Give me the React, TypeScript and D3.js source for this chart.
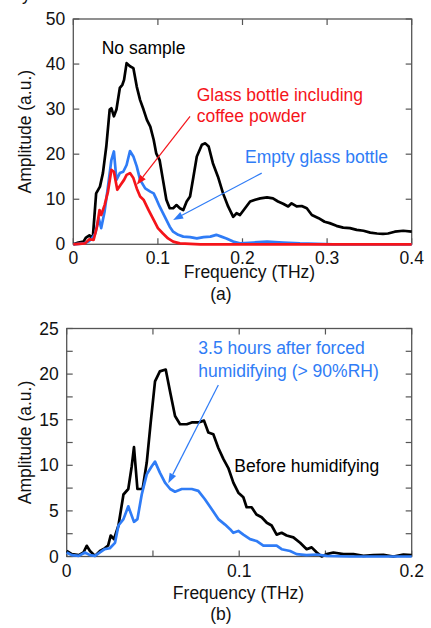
import React from "react";
import * as d3 from "d3";

// (a) spectra: [frequency THz, amplitude a.u.]
const noSample: [number, number][] = [
  [0, 0], [0.006, 0.4], [0.012, 0.6], [0.015, 1.5], [0.019, 2], [0.023, 1.3], [0.027, 11.3],
  [0.0315, 12.8], [0.035, 15.8], [0.039, 21.7], [0.043, 29.9], [0.045, 30.2], [0.048, 28.4],
  [0.051, 29.9], [0.055, 34.7], [0.058, 35.4], [0.06, 36.5], [0.063, 40.2], [0.067, 39.5],
  [0.071, 39.1], [0.075, 35], [0.079, 32], [0.083, 29.9], [0.087, 27.6], [0.091, 26.1],
  [0.095, 23.2], [0.098, 20.2], [0.102, 18.7], [0.106, 14.3], [0.11, 9.9], [0.114, 8],
  [0.118, 8], [0.122, 8.7], [0.126, 8], [0.13, 7.6], [0.134, 9.5], [0.138, 10.6], [0.142, 15],
  [0.146, 19.5], [0.152, 22.1], [0.156, 22.4], [0.16, 21.7], [0.165, 18], [0.171, 15],
  [0.177, 11.3], [0.183, 8.4], [0.189, 6.1], [0.193, 6.9], [0.197, 6.5], [0.203, 8],
  [0.209, 9.5], [0.215, 9.9], [0.221, 10.2], [0.229, 10.4], [0.236, 10.2], [0.242, 9.5],
  [0.248, 9], [0.254, 8.4], [0.258, 9.1], [0.264, 8.4], [0.27, 8.5], [0.276, 8], [0.282, 6.5],
  [0.29, 5.8], [0.297, 5], [0.303, 4.7], [0.311, 4.1], [0.319, 3.7], [0.327, 3.6], [0.335, 3.2],
  [0.343, 3], [0.351, 2.6], [0.359, 2.4], [0.366, 2.3], [0.372, 2.4], [0.38, 2.8], [0.39, 3],
  [0.4, 2.8],
];

const emptyBottle: [number, number][] = [
  [0, 0], [0.012, 0.2], [0.018, 0.6], [0.022, 1.3], [0.026, 2.4], [0.03, 5.8], [0.033, 3.6],
  [0.037, 7.3], [0.041, 12.8], [0.045, 18.7], [0.048, 20.6], [0.051, 14.3], [0.055, 15.8],
  [0.059, 16.1], [0.063, 17.6], [0.067, 20.7], [0.071, 19.5], [0.075, 17.3], [0.079, 14.3],
  [0.085, 12.4], [0.091, 11.7], [0.095, 11.3], [0.0985, 9.9], [0.102, 8.4], [0.106, 6.9],
  [0.11, 5.4], [0.114, 3.9], [0.118, 2.8], [0.124, 2.1], [0.13, 1.7], [0.138, 1.6],
  [0.146, 1.3], [0.154, 1.6], [0.162, 1.7], [0.169, 2.1], [0.175, 1.7], [0.181, 1.3],
  [0.189, 0.6], [0.197, 0.2], [0.213, 0.4], [0.229, 0.6], [0.248, 0.4], [0.268, 0.2],
  [0.307, 0], [0.4, 0],
];

const coffeeBottle: [number, number][] = [
  [0, 0], [0.014, 0.2], [0.019, 1.1], [0.024, 1], [0.028, 3.9], [0.031, 7.6], [0.033, 6.5],
  [0.037, 8.7], [0.041, 11.7], [0.045, 16.5], [0.048, 16.1], [0.052, 12.1], [0.056, 13.2],
  [0.06, 14.3], [0.063, 15.4], [0.067, 15.8], [0.071, 14.7], [0.075, 12.4], [0.079, 10.6],
  [0.083, 9.9], [0.089, 7.6], [0.095, 5.4], [0.1, 3.6], [0.106, 2.4], [0.112, 1.3],
  [0.118, 0.6], [0.126, 0.2], [0.15, 0], [0.4, 0],
];

// (b) spectra
const beforeHumid: [number, number][] = [
  [0, 0.6], [0.003, 0.26], [0.007, 0.15], [0.0097, 0.44], [0.0116, 1.17], [0.0135, 0.6],
  [0.0164, 0.07], [0.0193, 0.6], [0.022, 0.9], [0.024, 1.2], [0.0255, 2.3], [0.0274, 1.9],
  [0.03, 3.4], [0.0329, 6.8], [0.0357, 7.4], [0.0377, 9.9], [0.039, 12], [0.041, 7.4],
  [0.044, 7.4], [0.0464, 10.3], [0.0487, 14.7], [0.0512, 19.2], [0.054, 20.3], [0.0574, 20.5],
  [0.06, 18], [0.0628, 15.4], [0.0657, 14.5], [0.0696, 14.5], [0.0725, 14.7], [0.0763, 14.7],
  [0.0796, 14.9], [0.0821, 13.6], [0.085, 13.4], [0.0879, 11.9], [0.0908, 10.7], [0.0937, 9.7],
  [0.0966, 8.1], [0.0995, 7], [0.1024, 6.5], [0.1043, 5.4], [0.1072, 5.4], [0.11, 4.6],
  [0.113, 4.3], [0.116, 3.7], [0.1188, 3.4], [0.1217, 2.4], [0.1246, 2.6], [0.1275, 2.3],
  [0.1314, 2.1], [0.1353, 1.5], [0.1391, 0.8], [0.142, 1], [0.145, 0.44], [0.1478, 0],
  [0.1507, 0.26], [0.1546, 0.44], [0.1604, 0.26], [0.1662, 0.26], [0.172, 0.07], [0.1778, 0.15],
  [0.1836, 0.18], [0.1894, 0], [0.1952, 0.22], [0.2, 0.15],
];

const afterHumid: [number, number][] = [
  [0, 0.44], [0.003, 0.15], [0.007, 0.07], [0.0106, 0.44], [0.0135, 0.15], [0.0164, 0.07],
  [0.0193, 0.44], [0.022, 0.8], [0.025, 0.9], [0.028, 1.5], [0.03, 3.4], [0.0329, 4.1],
  [0.0357, 5.5], [0.039, 3.8], [0.041, 4.1], [0.0435, 6.8], [0.0464, 9], [0.0493, 9.9],
  [0.0512, 10.4], [0.054, 9.2], [0.057, 8.1], [0.06, 7.4], [0.0628, 7.1], [0.0667, 7.4],
  [0.0725, 7.4], [0.0763, 7.2], [0.08, 6.3], [0.084, 5.2], [0.0879, 4.1], [0.0918, 3.5],
  [0.0947, 3], [0.0966, 2.6], [0.0995, 2.8], [0.1024, 2.4], [0.1063, 1.9], [0.11, 1.7],
  [0.114, 1.2], [0.1179, 1.2], [0.1217, 1.2], [0.1246, 0.8], [0.1295, 0.6], [0.1333, 0.26],
  [0.139, 0.15], [0.145, 0.22], [0.1507, 0.07], [0.164, 0], [0.2, 0],
];

const xTicksA = [0, 0.1, 0.2, 0.3, 0.4];
const yTicksA = [0, 10, 20, 30, 40, 50];
const xTicksB = [0, 0.1, 0.2];
const xMinorB = [0.05, 0.15];
const yTicksB = [0, 5, 10, 15, 20, 25];
const yMinorB = [2.5, 7.5, 12.5, 17.5, 22.5];

const BLACK = "#000";
const BLUE = "#2f7cf6";
const RED = "#f5141a";
const FRAME = "#555";
const FONT = "'Liberation Sans', Arial, sans-serif";
const FS = 17.5;

type Series = { data: [number, number][]; color: string };
type Label = { text: string; x: number; y: number; color: string };
type Arrow = { from: [number, number]; to: [number, number]; color: string };

function arrowHead(x1: number, y1: number, x2: number, y2: number) {
  const ang = Math.atan2(y2 - y1, x2 - x1);
  const len = 10, half = 3.6;
  const bx = x2 - len * Math.cos(ang), by = y2 - len * Math.sin(ang);
  const px = -Math.sin(ang) * half, py = Math.cos(ang) * half;
  return { bx, by, pts: `${x2},${y2} ${bx + px},${by + py} ${bx - px},${by - py}` };
}

const Panel = ({
  left, top, width, height, xMax, yMax, xTicks, xMinor, yTicks, yMinor,
  series, labels, arrows, caption, yLabelX, xTitleX, xTitleY, captionY, captionX,
}: {
  left: number; top: number; width: number; height: number; xMax: number; yMax: number;
  xTicks: number[]; xMinor: number[]; yTicks: number[]; yMinor: number[];
  series: Series[]; labels: Label[]; arrows: Arrow[]; caption: string;
  yLabelX: number; xTitleX: number; xTitleY: number; captionY: number; captionX: number;
}) => {
  const x = d3.scaleLinear().domain([0, xMax]).range([left, left + width]);
  const y = d3.scaleLinear().domain([0, yMax]).range([top + height, top]);
  const line = d3.line<[number, number]>().x((d) => x(d[0])).y((d) => y(d[1]));
  const tl = 6;
  const fmt = (v: number) => (v === 0 ? "0" : String(v));

  return (
    <g fontFamily={FONT} fontSize={FS}>
      <rect x={left} y={top} width={width} height={height} fill="none" stroke={FRAME} strokeWidth={1.3} />
      {/* inside ticks on all sides */}
      {[...xTicks, ...xMinor].map((t) => (
        <g key={"xt" + t} stroke={FRAME} strokeWidth={1.2}>
          <line x1={x(t)} x2={x(t)} y1={top + height} y2={top + height - tl} />
          <line x1={x(t)} x2={x(t)} y1={top} y2={top + tl} />
        </g>
      ))}
      {[...yTicks, ...yMinor].map((t) => (
        <g key={"yt" + t} stroke={FRAME} strokeWidth={1.2}>
          <line x1={left} x2={left + tl} y1={y(t)} y2={y(t)} />
          <line x1={left + width} x2={left + width - tl} y1={y(t)} y2={y(t)} />
        </g>
      ))}
      {series.map((s, i) => (
        <path key={i} d={line(s.data) || ""} fill="none" stroke={s.color} strokeWidth={2.7} strokeLinejoin="round" />
      ))}
      {xTicks.map((t) => (
        <text key={"xl" + t} x={x(t)} y={top + height + 20} textAnchor="middle" fill="#111">
          {fmt(t)}
        </text>
      ))}
      {yTicks.map((t) => (
        <text key={"yl" + t} x={left - 8} y={y(t) + 6} textAnchor="end" fill="#111">
          {fmt(t)}
        </text>
      ))}
      <text x={xTitleX} y={xTitleY} textAnchor="middle" fill="#111">Frequency (THz)</text>
      <text x={captionX} y={captionY} textAnchor="middle" fill="#111">{caption}</text>
      <text transform={`translate(${yLabelX},${top + height / 2}) rotate(-90)`} textAnchor="middle" fill="#111">
        Amplitude (a.u.)
      </text>
      {arrows.map((a, i) => {
        const x1 = x(a.from[0]), y1 = y(a.from[1]), x2 = x(a.to[0]), y2 = y(a.to[1]);
        const h = arrowHead(x1, y1, x2, y2);
        return (
          <g key={"ar" + i}>
            <line x1={x1} y1={y1} x2={h.bx} y2={h.by} stroke={a.color} strokeWidth={1.2} />
            <polygon points={h.pts} fill={a.color} />
          </g>
        );
      })}
      {labels.map((l, i) => (
        <text key={"lb" + i} x={x(l.x)} y={y(l.y)} fill={l.color}>{l.text}</text>
      ))}
    </g>
  );
};

const labelsA: Label[] = [
  { text: "No sample", x: 0.0336, y: 42.3, color: BLACK },
  { text: "Glass bottle including", x: 0.1459, y: 31.7, color: RED },
  { text: "coffee powder", x: 0.1459, y: 27.1, color: RED },
  { text: "Empty glass bottle", x: 0.203, y: 18.1, color: BLUE },
];
const arrowsA: Arrow[] = [
  { from: [0.138, 28.4], to: [0.075, 13.2], color: RED },
  { from: [0.2227, 15.8], to: [0.118, 5.4], color: BLUE },
];
const labelsB: Label[] = [
  { text: "3.5 hours after forced", x: 0.0763, y: 22.2, color: BLUE },
  { text: "humidifying (> 90%RH)", x: 0.0763, y: 19.7, color: BLUE },
  { text: "Before humidifying", x: 0.0972, y: 9.3, color: BLACK },
];
const arrowsB: Arrow[] = [{ from: [0.0879, 18.8], to: [0.0589, 8.03], color: BLUE }];

export default function App() {
  return (
    <div style={{ position: "absolute", left: 0, top: 0, width: 431, height: 628, background: "#fff" }}>
      <svg width={431} height={628} style={{ display: "block" }}>
        <text x={22} y={0} fontFamily={FONT} fontSize={FS} fill="#111">y</text>
        <Panel
          left={73.3} top={19} width={338.4} height={225.3} xMax={0.4} yMax={50}
          xTicks={xTicksA} xMinor={[]} yTicks={yTicksA} yMinor={[]}
          series={[
            { data: noSample, color: BLACK },
            { data: emptyBottle, color: BLUE },
            { data: coffeeBottle, color: RED },
          ]}
          labels={labelsA} arrows={arrowsA} caption="(a)"
          yLabelX={30.5} xTitleX={249.5} xTitleY={278} captionY={300} captionX={221}
        />
        <Panel
          left={66.7} top={328.5} width={345} height={228} xMax={0.2} yMax={25}
          xTicks={xTicksB} xMinor={xMinorB} yTicks={yTicksB} yMinor={yMinorB}
          series={[
            { data: beforeHumid, color: BLACK },
            { data: afterHumid, color: BLUE },
          ]}
          labels={labelsB} arrows={arrowsB} caption="(b)"
          yLabelX={30.5} xTitleX={238.5} xTitleY={599} captionY={620} captionX={221}
        />
      </svg>
    </div>
  );
}
